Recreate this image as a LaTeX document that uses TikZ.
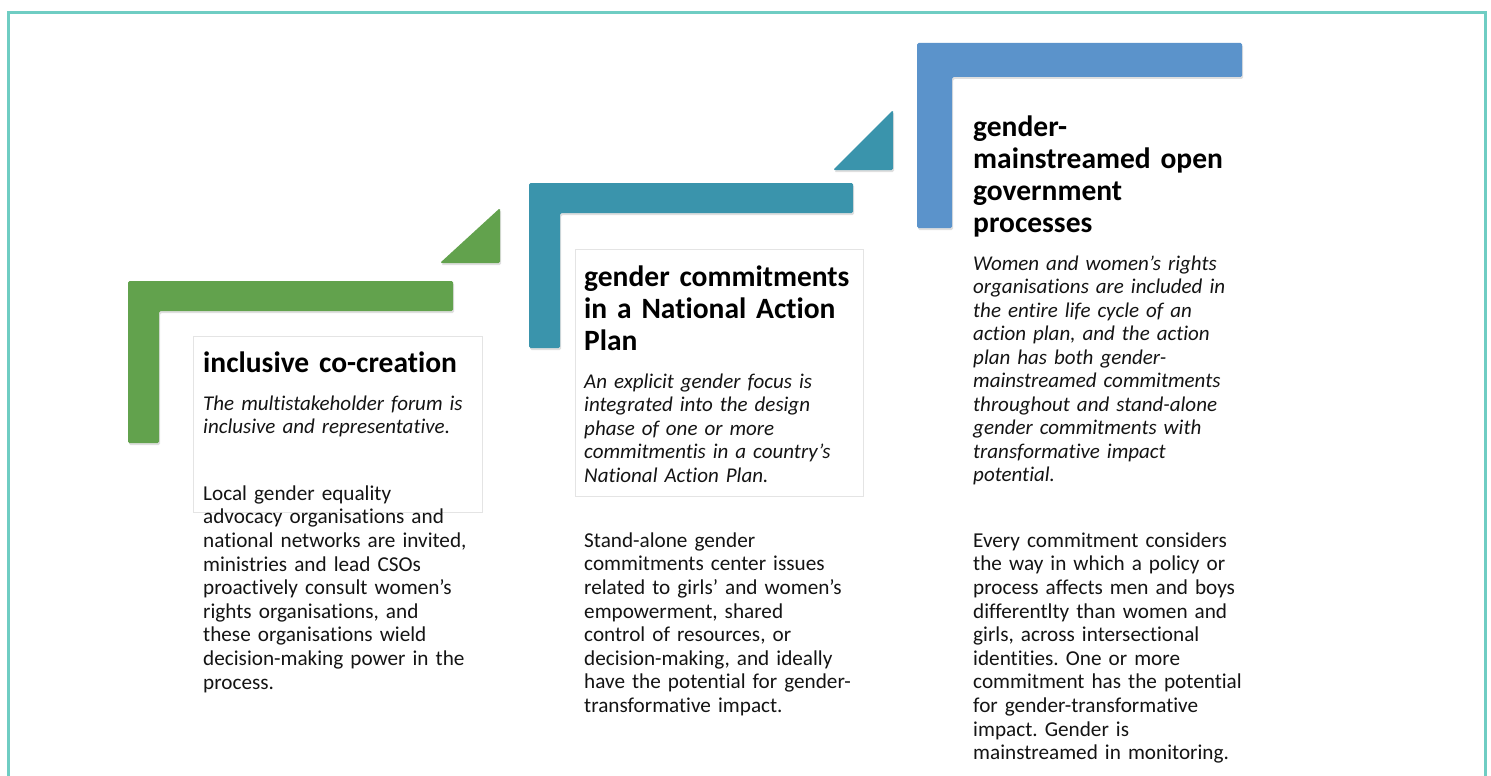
\documentclass[tikz,border=0pt]{standalone}
\usepackage{fontspec}
\setmainfont{Carlito}[RawFeature={-liga}]
\usetikzlibrary{shadows}
\definecolor{framec}{HTML}{6FCDC3}
\definecolor{greenc}{HTML}{62A24D}
\definecolor{tealc}{HTML}{3A94AC}
\definecolor{bluec}{HTML}{5B93CB}
\definecolor{txt}{HTML}{141414}
\definecolor{boxline}{HTML}{E4E4E4}
\newcommand{\apos}{{\char"0027}}
\tikzset{
  bracket/.style={rounded corners=1.5pt, drop shadow={opacity=0.25, shadow xshift=1pt, shadow yshift=-2pt}},
  titletext/.style={anchor=north west, inner sep=0pt, text width=330pt, align=left, text=black,
    font=\fontsize{29.5}{32}\selectfont\bfseries},
  desctext/.style={anchor=north west, inner sep=0pt, text width=330pt, align=left, text=txt,
    font=\fontsize{21}{23.5}\selectfont\itshape},
  bodytext/.style={anchor=north west, inner sep=0pt, text width=330pt, align=left, text=txt,
    font=\fontsize{21.2}{23.6}\selectfont},
  textbox/.style={draw=boxline, line width=0.8pt, fill=white}
}
\frenchspacing
\begin{document}
\begin{tikzpicture}[x=1pt,y=-1pt]
\useasboundingbox (0,0) rectangle (1491,776);
\clip (0,0) rectangle (1491,776);
\fill[white] (0,0) rectangle (1491,776);
% frame
\draw[framec, line width=3pt] (8.5,800) -- (8.5,12.5) -- (1485,12.5) -- (1485,800);

% step 1 (green)
\fill[greenc, bracket] (128,281) -- (453,281) -- (453,311) -- (159,311) -- (159,443) -- (128,443) -- cycle;
\fill[greenc, bracket] (440,263) -- (500,208) -- (500,263) -- cycle;
\node[textbox, minimum width=289pt, minimum height=176pt, anchor=north west, inner sep=0pt] (box1) at (193,336) {};

% step 2 (teal)
\fill[tealc, bracket] (529,183) -- (853,183) -- (853,213) -- (560,213) -- (560,348) -- (529,348) -- cycle;
\fill[tealc, bracket] (833,170) -- (893,110) -- (893,170) -- cycle;
\node[textbox, minimum width=288pt, minimum height=247pt, anchor=north west, inner sep=0pt] (box2) at (575,249) {};

% step 3 (blue)
\fill[bluec, bracket] (917,43) -- (1242,43) -- (1242,77) -- (952,77) -- (952,228) -- (917,228) -- cycle;

% texts column 1
\node[titletext] (t1) at (203,350) {\strut inclusive co-creation};
\node[desctext] (d1) at (203,393.5) {\strut The multistakeholder forum is\\inclusive and representative.};
\node[bodytext] (b1) at (203,483.5) {\strut Local gender equality\\advocacy organisations and\\national networks are invited,\\ministries and lead CSOs\\proactively consult women’s\\rights organisations, and\\these organisations wield\\decision-making power in the\\process.};

% texts column 2
\node[titletext] (t2) at (584,264) {\strut gender commitments\\in a National Action\\Plan};
\node[desctext] (d2) at (584,371.5) {\strut An explicit gender focus is\\integrated into the design\\phase of one or more\\commitmentis in a country\apos s\\National Action Plan.};
\node[bodytext] (b2) at (584,530.5) {\strut Stand-alone gender\\commitments center issues\\related to girls’ and women’s\\empowerment, shared\\control of resources, or\\decision-making, and ideally\\have the potential for gender-\\transformative impact.};

% texts column 3
\node[titletext] (t3) at (973,113.5) {\strut gender-\\mainstreamed open\\government\\processes};
\node[desctext] (d3) at (973,253.5) {\strut Women and women\apos s rights\\organisations are included in\\the entire life cycle of an\\action plan, and the action\\plan has both gender-\\mainstreamed commitments\\throughout and stand-alone\\gender commitments with\\transformative impact\\potential.};
\node[bodytext] (b3) at (973,530.5) {\strut Every commitment considers\\the way in which a policy or\\process affects men and boys\\differentlty than women and\\girls, across intersectional\\identities. One or more\\commitment has the potential\\for gender-transformative\\impact. Gender is\\mainstreamed in monitoring.};
\end{tikzpicture}
\end{document}
